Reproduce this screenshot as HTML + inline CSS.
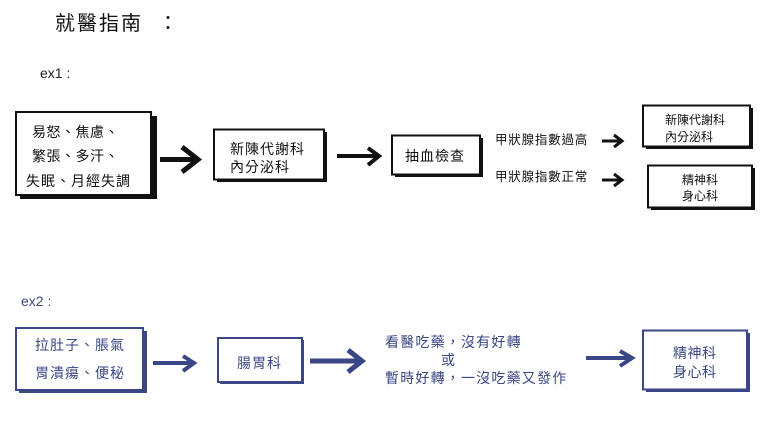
<!DOCTYPE html>
<html><head><meta charset="utf-8"><style>
html,body{margin:0;padding:0;background:#fff;}
svg{display:block;}
text{font-family:"Liberation Sans","Noto Sans CJK TC",sans-serif;}
</style></head><body>
<svg width="768" height="438" viewBox="0 0 768 438" xmlns="http://www.w3.org/2000/svg">
<rect width="768" height="438" fill="#fff"/>
<!-- title -->
<text x="55" y="24" font-size="20" dominant-baseline="central" fill="#111" letter-spacing="2">就醫指南</text>
<text x="158" y="24" font-size="20" dominant-baseline="central" fill="#111">：</text>
<text x="40" y="73" font-size="14" dominant-baseline="central" fill="#222">ex1 :</text>

<!-- Box1 -->
<rect x="20" y="116" width="137" height="83" fill="#111"/>
<rect x="16" y="112" width="135" height="83" fill="#fff" stroke="#111" stroke-width="2"/>
<g font-size="14" fill="#111" dominant-baseline="central">
<text x="32" y="132" letter-spacing="0.5">易怒、焦慮、</text>
<text x="32" y="156" letter-spacing="0.5">繁張、多汗、</text>
<text x="26" y="181" letter-spacing="1">失眠、月經失調</text>
</g>

<!-- Arrow1 -->
<line x1="160" y1="159.5" x2="197" y2="159.5" stroke="#111" stroke-width="5"/>
<polyline points="182,147 198,159.5 182,172" fill="none" stroke="#111" stroke-width="5"/>

<!-- Box2 -->
<rect x="217" y="132" width="110" height="50" fill="#111"/>
<rect x="214" y="129.5" width="110" height="50" fill="#fff" stroke="#111" stroke-width="2"/>
<g font-size="14" fill="#111" dominant-baseline="central">
<text x="230" y="149" letter-spacing="1">新陳代謝科</text>
<text x="230" y="167" letter-spacing="1">內分泌科</text>
</g>

<!-- Arrow2 -->
<line x1="337" y1="156" x2="377" y2="156" stroke="#111" stroke-width="4"/>
<polyline points="368,148 379,156 368,165" fill="none" stroke="#111" stroke-width="4"/>

<!-- Box3 -->
<rect x="395" y="138" width="88" height="39" fill="#111"/>
<rect x="392" y="135.5" width="88" height="39" fill="#fff" stroke="#111" stroke-width="2"/>
<text x="405" y="156" font-size="14" fill="#111" dominant-baseline="central" letter-spacing="1">抽血檢查</text>

<!-- labels -->
<g font-size="12.5" fill="#111" dominant-baseline="central">
<text x="495" y="140" letter-spacing="0.8">甲狀腺指數過高</text>
<text x="495" y="177" letter-spacing="0.8">甲狀腺指數正常</text>
</g>
<!-- small arrows -->
<line x1="602" y1="141" x2="621" y2="141" stroke="#111" stroke-width="3"/>
<polyline points="614,135 622,141 614,147" fill="none" stroke="#111" stroke-width="3"/>
<line x1="602" y1="180" x2="621" y2="180" stroke="#111" stroke-width="3"/>
<polyline points="614,174 622,180 614,186" fill="none" stroke="#111" stroke-width="3"/>

<!-- Box4 -->
<rect x="646" y="108" width="107" height="41" fill="#111"/>
<rect x="643" y="105.5" width="107" height="41" fill="#fff" stroke="#111" stroke-width="2"/>
<g font-size="12" fill="#111" dominant-baseline="central">
<text x="665" y="120" letter-spacing="0">新陳代謝科</text>
<text x="665" y="137" letter-spacing="0">內分泌科</text>
</g>

<!-- Box5 -->
<rect x="651" y="168" width="104" height="42" fill="#111"/>
<rect x="648" y="165.5" width="104" height="42" fill="#fff" stroke="#111" stroke-width="2"/>
<g font-size="12" fill="#111" dominant-baseline="central">
<text x="682" y="180">精神科</text>
<text x="682" y="196">身心科</text>
</g>

<!-- ex2 -->
<text x="21" y="301" font-size="14" dominant-baseline="central" fill="#3b4687">ex2 :</text>

<!-- BoxA -->
<rect x="19" y="331" width="128" height="62" fill="#3b4687"/>
<rect x="16" y="328" width="127" height="62" fill="#fff" stroke="#3b4687" stroke-width="2"/>
<g font-size="14" fill="#3b4687" dominant-baseline="central">
<text x="35" y="345" letter-spacing="1">拉肚子、脹氣</text>
<text x="35" y="373" letter-spacing="1">胃潰瘍、便秘</text>
</g>

<!-- ArrowA -->
<line x1="153" y1="363" x2="193" y2="363" stroke="#3b4687" stroke-width="4"/>
<polyline points="183,356 194,363 183,371" fill="none" stroke="#3b4687" stroke-width="4"/>

<!-- BoxB -->
<rect x="220" y="340" width="84" height="44" fill="#3b4687"/>
<rect x="218" y="338" width="84" height="44" fill="#fff" stroke="#3b4687" stroke-width="2"/>
<text x="237" y="363" font-size="14" fill="#3b4687" dominant-baseline="central" letter-spacing="1">腸胃科</text>

<!-- ArrowB -->
<line x1="310" y1="361" x2="360" y2="361" stroke="#3b4687" stroke-width="5"/>
<polyline points="348,350 362,361 348,372" fill="none" stroke="#3b4687" stroke-width="5"/>

<!-- text middle -->
<g font-size="14" fill="#3b4687" dominant-baseline="central">
<text x="385" y="342" letter-spacing="1.2">看醫吃藥，沒有好轉</text>
<text x="441" y="360">或</text>
<text x="385" y="378" letter-spacing="1.2">暫時好轉，一沒吃藥又發作</text>
</g>

<!-- ArrowC -->
<line x1="586" y1="358" x2="630" y2="358" stroke="#3b4687" stroke-width="4"/>
<polyline points="620,351 632,358 620,366" fill="none" stroke="#3b4687" stroke-width="4"/>

<!-- BoxC -->
<rect x="646" y="333" width="104" height="59" fill="#3b4687"/>
<rect x="643" y="330.5" width="104" height="59" fill="#fff" stroke="#3b4687" stroke-width="2"/>
<g font-size="14" fill="#3b4687" dominant-baseline="central">
<text x="673" y="353" letter-spacing="0.5">精神科</text>
<text x="673" y="372" letter-spacing="0.5">身心科</text>
</g>
</svg>
</body></html>
